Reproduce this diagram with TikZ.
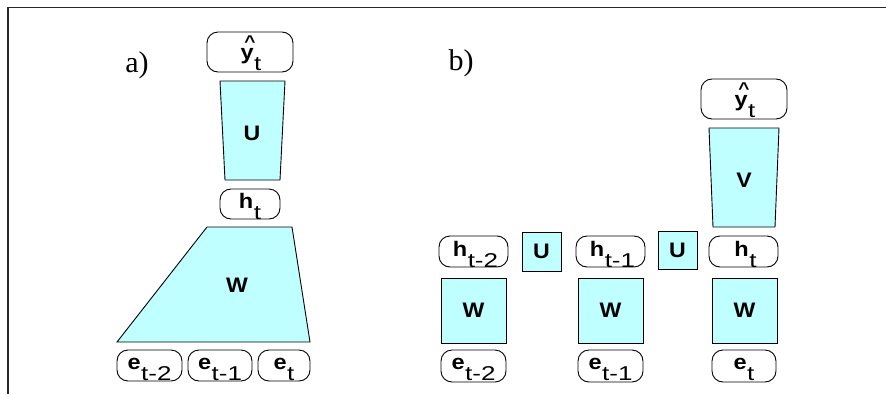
\documentclass[tikz,border=0pt]{standalone}
\usepackage{graphicx}
\usepackage{fontspec}
\setmainfont{Liberation Sans}
\newfontfamily\serifa{Liberation Serif}
\definecolor{cyanfill}{RGB}{192,255,255}
\newcommand{\mainl}[1]{\scalebox{1.12}[1]{\fontsize{21}{21}\selectfont\bfseries #1}}
\newcommand{\subl}[1]{\raisebox{-11pt}{\scalebox{1.3}[1]{\fontsize{20}{20}\selectfont\mdseries #1}}}
\newcommand{\lbl}[2]{\mainl{#1}\hspace{0.5pt}\subl{#2}}
\newcommand{\yhat}{\rlap{\hspace{3.3pt}\raisebox{12pt}{\fontsize{17}{17}\selectfont\^{}}}y}
\tikzset{
  rbox/.style={draw, line width=0.9pt, rounded corners=11pt, inner sep=0pt},
  wbox/.style={draw, line width=0.9pt, fill=cyanfill, inner sep=0pt},
  trap/.style={draw, line width=0.9pt, fill=cyanfill},
  txt/.style={inner sep=0pt, anchor=base},
  mlab/.style={inner sep=0pt, font=\fontsize{21}{21}\selectfont\bfseries},
  panel/.style={inner sep=0pt, font=\serifa\fontsize{30}{30}\selectfont},
  frameline/.style={line width=1.1pt, color=black!85}
}
\begin{document}
\begin{tikzpicture}[x=1pt,y=-1pt]
\useasboundingbox (0,0) rectangle (886,394);
\draw[frameline] (8,394) -- (8,7.5) -- (886,7.5);
% panel labels
\node[panel] (la) at (137,65) {a)};
\node[panel] (lb) at (461,63) {b)};
% ---- a)
\node[rbox, minimum width=86pt, minimum height=40pt] (ya) at (250,52) {};
\node[txt] (yat) at ([xshift=1pt,yshift=-7.5pt]ya.center) {\lbl{\yhat}{t}};
\draw[trap] (220,81) -- (285,81) -- (280,180) -- (225,180) -- cycle;
\node[mlab] (Ua) at (252,133) {\scalebox{1.1}[1]{U}};
\node[rbox, minimum width=60pt, minimum height=30pt] (ha) at (250,204) {};
\node[txt] (hat) at ([yshift=-4.5pt]ha.center) {\lbl{h}{t}};
\draw[trap] (207,227) -- (292,227) -- (310,342) -- (117,342) -- cycle;
\node[mlab] (Wa) at (237,285) {\scalebox{1.1}[1]{W}};
\node[rbox, minimum width=65pt, minimum height=31pt] (ea1) at (149.5,365.5) {};
\node[rbox, minimum width=64pt, minimum height=31pt] (ea2) at (220,365.5) {};
\node[rbox, minimum width=52pt, minimum height=31pt] (ea3) at (284,365.5) {};
\node[txt] (ea1t) at ([yshift=-3.5pt]ea1.center) {\lbl{e}{t-2}};
\node[txt] (ea2t) at ([yshift=-3.5pt]ea2.center) {\lbl{e}{t-1}};
\node[txt] (ea3t) at ([yshift=-3.5pt]ea3.center) {\lbl{e}{t}};
% ---- b)
\node[rbox, minimum width=86pt, minimum height=40pt] (yb) at (744,99) {};
\node[txt] (ybt) at ([xshift=1pt,yshift=-7.5pt]yb.center) {\lbl{\yhat}{t}};
\draw[trap] (709,128) -- (779,128) -- (775,227) -- (713,227) -- cycle;
\node[mlab] (Vb) at (744,180) {\scalebox{1.1}[1]{V}};
\node[rbox, minimum width=69pt, minimum height=31pt] (hb1) at (473.5,251.5) {};
\node[rbox, minimum width=69pt, minimum height=31pt] (hb2) at (610.5,251.5) {};
\node[rbox, minimum width=69pt, minimum height=31pt] (hb3) at (743.5,251.5) {};
\node[txt] (hb1t) at ([xshift=2pt,yshift=-4.5pt]hb1.center) {\lbl{h}{t-2}};
\node[txt] (hb2t) at ([xshift=2pt,yshift=-4.5pt]hb2.center) {\lbl{h}{t-1}};
\node[txt] (hb3t) at ([xshift=2pt,yshift=-4.5pt]hb3.center) {\lbl{h}{t}};
\node[wbox, mlab, minimum width=39pt, minimum height=39pt] (Ub1) at (541.5,251.5) {\scalebox{1.1}[1]{U}};
\node[wbox, mlab, minimum width=39pt, minimum height=38pt] (Ub2) at (677.5,250) {\scalebox{1.1}[1]{U}};
\node[wbox, mlab, minimum width=65pt, minimum height=65pt] (Wb1) at (473.5,310.5) {\scalebox{1.1}[1]{W}};
\node[wbox, mlab, minimum width=65pt, minimum height=65pt] (Wb2) at (610.5,310.5) {\scalebox{1.1}[1]{W}};
\node[wbox, mlab, minimum width=65pt, minimum height=65pt] (Wb3) at (744.5,310.5) {\scalebox{1.1}[1]{W}};
\node[rbox, minimum width=65pt, minimum height=32pt] (eb1) at (473.5,366) {};
\node[rbox, minimum width=65pt, minimum height=32pt] (eb2) at (610.5,366) {};
\node[rbox, minimum width=64pt, minimum height=32pt] (eb3) at (744,366) {};
\node[txt] (eb1t) at ([yshift=-3.5pt]eb1.center) {\lbl{e}{t-2}};
\node[txt] (eb2t) at ([yshift=-3.5pt]eb2.center) {\lbl{e}{t-1}};
\node[txt] (eb3t) at ([yshift=-3.5pt]eb3.center) {\lbl{e}{t}};
\end{tikzpicture}
\end{document}
